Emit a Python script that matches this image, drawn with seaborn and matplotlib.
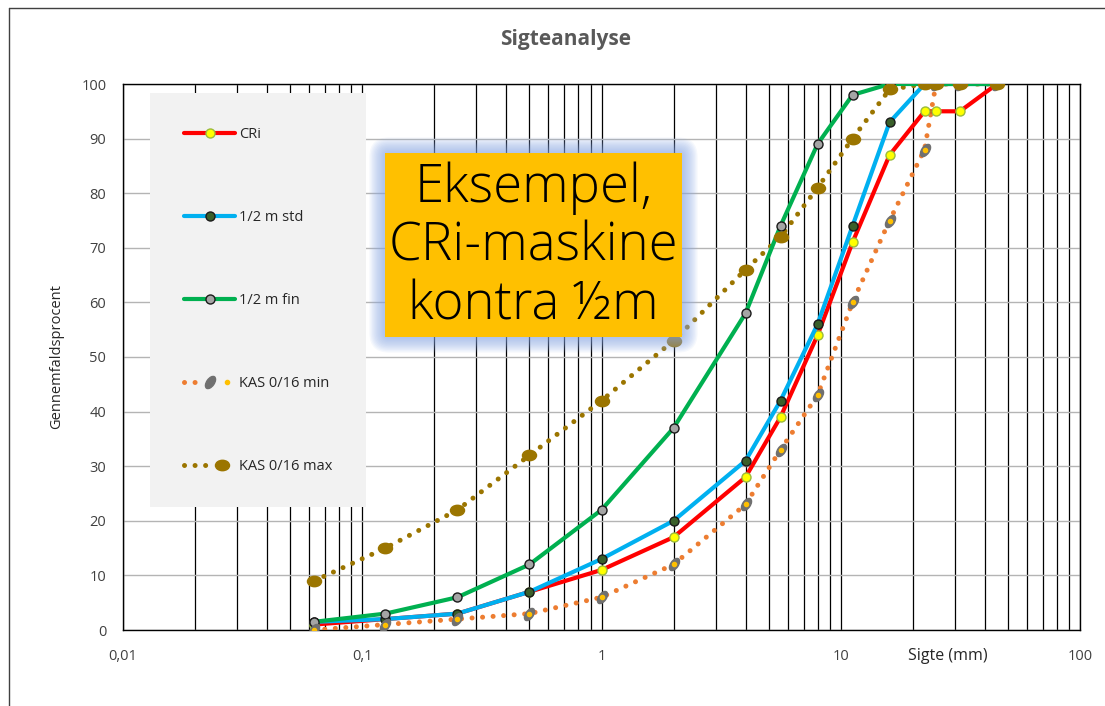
import numpy as np
import pandas as pd
import matplotlib
matplotlib.use("Agg")
import matplotlib.pyplot as plt
import seaborn as sns
from matplotlib.lines import Line2D
from matplotlib.patches import Rectangle, FancyBboxPatch
from matplotlib.legend_handler import HandlerTuple
from matplotlib.markers import MarkerStyle
from matplotlib.transforms import Affine2D, IdentityTransform

sns.set_style("white")
plt.rcParams['font.family'] = ['Open Sans', 'DejaVu Sans']

# ---------- data ----------
sigte_cri = [0.063, 0.125, 0.25, 0.5, 1, 2, 4, 5.6, 8, 11.2, 16, 22.4, 25, 31.5, 45]
cri = [1, 2, 3, 7, 11, 17, 28, 39, 54, 71, 87, 95, 95, 95, 100]

sigte_halv = [0.063, 0.125, 0.25, 0.5, 1, 2, 4, 5.6, 8, 11.2, 16, 22.4, 31.5, 45]
halv_std = [1.5, 2, 3, 7, 13, 20, 31, 42, 56, 74, 93, 100, 100, 100]
halv_fin = [1.5, 3, 6, 12, 22, 37, 58, 74, 89, 98, 100, 100, 100, 100]

sigte_kas = [0.063, 0.125, 0.25, 0.5, 1, 2, 4, 5.6, 8, 11.2, 16, 22.4, 25, 31.5, 45]
kas_min = [0, 1, 2, 3, 6, 12, 23, 33, 43, 60, 75, 88, 100, 100, 100]
kas_max = [9, 15, 22, 32, 42, 53, 66, 72, 81, 90, 99, 100, 100, 100, 100]

x_major = [0.01, 0.1, 1, 10, 100]
x_labels = ['0,01', '0,1', '1', '10', '100']
y_ticks = list(range(0, 101, 10))

W, H = 1105, 706
fig = plt.figure(figsize=(W / 100, H / 100), dpi=100)
ax = fig.add_axes([123 / W, 76 / H, 957 / W, 546 / H])

# ---------- farver / stil ----------
c_red = '#ff0000'
c_blue = '#00b0f0'
c_green = '#00b050'
c_orange = '#ed7d31'
c_brown = '#9b7500'
dot_ls = (0, (0.01, 2.1))

m_min = MarkerStyle('o', transform=Affine2D().scale(0.55, 1.0).rotate_deg(-35))
m_max = MarkerStyle('o', transform=Affine2D().scale(1.35, 1.0))

# ---------- kurver ----------
sns.lineplot(x=sigte_kas, y=kas_min, ax=ax, color=c_orange, lw=3.6, linestyle=dot_ls,
             dash_capstyle='round', legend=False, zorder=3)
sns.lineplot(x=sigte_kas, y=kas_max, ax=ax, color=c_brown, lw=3.6, linestyle=dot_ls,
             dash_capstyle='round', legend=False, zorder=3)

sns.lineplot(x=sigte_cri, y=cri, ax=ax, color=c_red, lw=3, marker='o', markersize=6.5,
             markerfacecolor='#ffff00', markeredgecolor='#9bbb3b', markeredgewidth=1,
             legend=False, zorder=4)
sns.lineplot(x=sigte_halv, y=halv_std, ax=ax, color=c_blue, lw=3, marker='o', markersize=6.5,
             markerfacecolor='#3a5f2a', markeredgecolor='#1a1a1a', markeredgewidth=1,
             legend=False, zorder=5)
sns.lineplot(x=sigte_halv, y=halv_fin, ax=ax, color=c_green, lw=3, marker='o', markersize=6.5,
             markerfacecolor='#a5a5a5', markeredgecolor='#1a1a1a', markeredgewidth=1,
             legend=False, zorder=6)

# KAS markører (billedmarkører i originalen)
ax.plot(sigte_kas, kas_min, ls='none', marker=m_min, markersize=10, color='#707070', zorder=7)
ax.plot(sigte_kas, kas_min, ls='none', marker='o', markersize=3, color='#ffc000', zorder=7)
ax.plot(sigte_kas, kas_max, ls='none', marker=m_max, markersize=7.5, color=c_brown, zorder=7)

# ---------- akser ----------
ax.set_xscale('log')
ax.set_xlim(0.01, 100)
ax.set_ylim(0, 100)
minor = [d * k for d in [0.01, 0.1, 1, 10] for k in range(2, 10)]
ax.set_xticks(x_major)
ax.set_xticklabels(x_labels)
ax.set_xticks(minor, minor=True)
ax.set_yticks(y_ticks)
ax.tick_params(axis='both', which='both', length=0, labelsize=10.5, colors='#404040')
ax.tick_params(axis='x', pad=14)
ax.tick_params(axis='y', pad=12)
ax.set_axisbelow(True)
ax.grid(True, axis='x', which='both', color='black', lw=0.9)
ax.grid(True, axis='y', which='major', color='#b4b4b4', lw=1)
for s in ax.spines.values():
    s.set_color('black')
    s.set_linewidth(1)

ax.set_ylabel('Gennemfaldsprocent', fontsize=10.5, color='#262626', labelpad=12)
fig.text(948 / W, 1 - 656 / H, 'Sigte (mm)', fontsize=11.5, color='#262626', ha='center', va='center')
fig.text(566 / W, 1 - 40 / H, 'Sigteanalyse', fontsize=15, color='#595959', ha='center',
         va='center', weight='bold')

# ---------- forklaring ----------
ax.add_patch(Rectangle(((150 - 123) / 957, (630 - 507) / 546), 216 / 957, 414 / 546,
                       transform=ax.transAxes, facecolor='#f2f2f2', edgecolor='none', zorder=2.5))

h_cri = Line2D([], [], color=c_red, lw=3, marker='o', markersize=6.5,
               markerfacecolor='#ffff00', markeredgecolor='#9bbb3b')
h_std = Line2D([], [], color=c_blue, lw=3, marker='o', markersize=6.5,
               markerfacecolor='#3a5f2a', markeredgecolor='#1a1a1a')
h_fin = Line2D([], [], color=c_green, lw=3, marker='o', markersize=6.5,
               markerfacecolor='#a5a5a5', markeredgecolor='#1a1a1a')
h_min = (Line2D([], [], color=c_orange, lw=3.6, linestyle=dot_ls, dash_capstyle='round'),
         Line2D([], [], ls='none', marker=m_min, markersize=10, color='#707070'),
         Line2D([], [], ls='none', marker='o', markersize=3, color='#ffc000'))
h_max = (Line2D([], [], color=c_brown, lw=3.6, linestyle=dot_ls, dash_capstyle='round'),
         Line2D([], [], ls='none', marker=m_max, markersize=7.5, color=c_brown))

leg = ax.legend([h_cri, h_std, h_fin, h_min, h_max],
                ['CRi', '1/2 m std', '1/2 m fin', 'KAS 0/16 min', 'KAS 0/16 max'],
                handler_map={tuple: HandlerTuple(ndivide=None)},
                loc='upper left', bbox_to_anchor=((184 - 123) / 957, (630 - 127) / 546),
                frameon=False, fontsize=10.5, borderpad=0, borderaxespad=0,
                handlelength=3.5, handletextpad=0.25, labelspacing=4.67, numpoints=1)
leg.set_zorder(8)
for t in leg.get_texts():
    t.set_color('#262626')

# ---------- tekstboks med glød ----------
bx0, by0, bw, bh = 385, H - 337, 297, 184
for i in range(12, 0, -1):
    fig.add_artist(FancyBboxPatch((bx0, by0), bw, bh,
                                  boxstyle=f"round,pad={i * 1.3},rounding_size={i * 1.3 + 4}",
                                  transform=IdentityTransform(), facecolor='#8aa8e6',
                                  edgecolor='none', alpha=0.08, zorder=9))
fig.add_artist(Rectangle((bx0, by0), bw, bh, transform=IdentityTransform(),
                         facecolor='#ffc000', edgecolor='none', zorder=10))
fig.text((bx0 + bw / 2) / W, 1 - 247 / H, 'Eksempel,\nCRi-maskine\nkontra ½m', fontsize=38,
         weight='light', ha='center', va='center', linespacing=1.13, color='black', zorder=11)

# ---------- ramme ----------
fig.add_artist(Line2D([9 / W, 9 / W], [0, 1 - 8 / H], color='#404040', lw=1))
fig.add_artist(Line2D([9 / W, 1], [1 - 8 / H, 1 - 8 / H], color='#404040', lw=1))

fig.savefig('out.png', dpi=100)
